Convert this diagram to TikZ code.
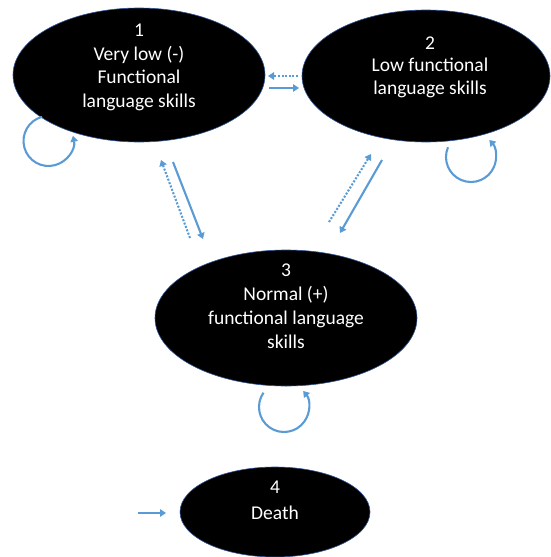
\documentclass[tikz,border=0pt]{standalone}
\usepackage{fontspec}
\setmainfont{Carlito}
\usetikzlibrary{arrows.meta}
\definecolor{arrowblue}{HTML}{5B9BD5}
\definecolor{edgeblue}{HTML}{2F5597}
\begin{document}
\begin{tikzpicture}[x=1pt,y=-1pt,
  statefill/.style={fill=black},
  stateedge/.style={draw=edgeblue, line width=0.6pt},
  label/.style={text=white, align=center, anchor=base},
  conn/.style={draw=arrowblue, line width=2.1pt, -{Triangle[length=6pt,width=7.5pt]}},
  dotconn/.style={conn, dash pattern=on 2pt off 1.6pt}]
\useasboundingbox (0,0) rectangle (550,557);
% ellipses
\fill[statefill] (139,75) ellipse [x radius=126, y radius=67];
\draw[stateedge] (139,75) ellipse [x radius=126, y radius=67];
\fill[statefill] (426,76) ellipse [x radius=124, y radius=66];
\draw[stateedge] (426,76) ellipse [x radius=124, y radius=66];
\fill[statefill] (286,318) ellipse [x radius=131, y radius=68];
\draw[stateedge] (286,318) ellipse [x radius=131, y radius=68];
\fill[statefill] (275,512) ellipse [x radius=95, y radius=45];
\draw[stateedge] (275,512) ellipse [x radius=95, y radius=45];
% texts
\node[label, font=\fontsize{19.5}{23.5}\selectfont] (s1) at (139,107)
  {1\\Very low (-)\\Functional\\language skills};
\node[label, font=\fontsize{19.5}{22.5}\selectfont] (s2) at (430,94)
  {2\\Low functional\\language skills};
\node[label, font=\fontsize{19.5}{24}\selectfont] (s3) at (286,348)
  {3\\Normal (+)\\functional language\\skills};
\node[label, font=\fontsize{19.5}{26}\selectfont] (s4) at (275,519)
  {4\\Death};
% connectors between 1 and 2
\coordinate (a1) at (298,76); \coordinate (a2) at (268,76);
\draw[dotconn] (a1) -- (a2);
\coordinate (b1) at (269,88); \coordinate (b2) at (299,88);
\draw[conn] (b1) -- (b2);
% between 1 and 3
\coordinate (c1) at (190,238); \coordinate (c2) at (161,160);
\draw[dotconn] (c1) -- (c2);
\coordinate (d1) at (173,162); \coordinate (d2) at (203,239);
\draw[conn] (d1) -- (d2);
% between 2 and 3
\coordinate (e1) at (329,222); \coordinate (e2) at (371,154);
\draw[dotconn] (e1) -- (e2);
\coordinate (f1) at (382,160); \coordinate (f2) at (340,233);
\draw[conn] (f1) -- (f2);
% self loops (angles negated because y axis points down)
\draw[conn] (48.5,141) ++(-105:25) arc[start angle=-105, end angle=-372, radius=25];
\draw[conn] (471,157) ++(-157:25) arc[start angle=-157, end angle=-403, radius=25];
\draw[conn] (284,407) ++(-145:25) arc[start angle=-145, end angle=-400, radius=25];
% into death
\coordinate (g1) at (138,513); \coordinate (g2) at (166,513);
\draw[conn] (g1) -- (g2);
\end{tikzpicture}
\end{document}
